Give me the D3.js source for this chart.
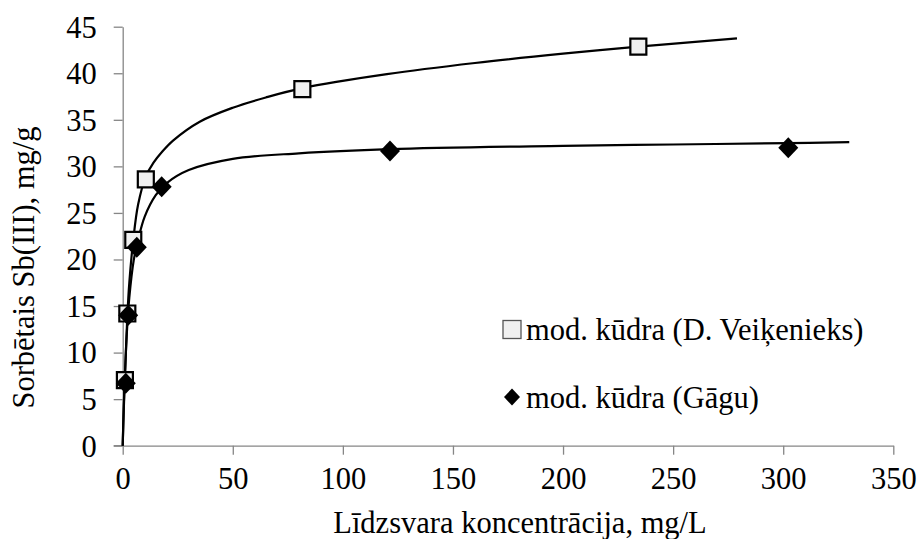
<!DOCTYPE html>
<html>
<head>
<meta charset="utf-8">
<script src="https://cdn.jsdelivr.net/npm/d3@7/dist/d3.min.js"></script>
<style>
  html, body { margin: 0; padding: 0; background: #fff; }
  svg { display: block; }
  text { font-family: "Liberation Serif", "Times New Roman", serif; fill: #000; }
</style>
</head>
<body>
<svg id="chart" width="920" height="539"></svg>
<script>
// Sorption isotherms of Sb(III) on modified peat
const xTicks = [0, 50, 100, 150, 200, 250, 300, 350];
const yTicks = [0, 5, 10, 15, 20, 25, 30, 35, 40, 45];

// measured points: equilibrium concentration (mg/L) and sorbed amount (mg/g)
const veikCe = [1.0, 2.1, 4.8, 10.5, 81.6, 234.2];
const veikQ  = [7.05, 14.2, 22.1, 28.6, 38.3, 42.85];
const gaguCe = [1.4, 2.5, 6.4, 17.7, 121.4, 302.3];
const gaguQ  = [6.7, 14.0, 21.3, 27.8, 31.65, 32.0];

// trend lines as drawn on the chart
const veikTrendX = [0, 0.5, 1.0, 2.1, 3.0, 4.8, 7.0, 10.5, 14, 18, 23, 35, 50, 65, 81.6, 120, 160, 200, 234.2, 279];
const veikTrendY = [0, 4.0, 7.2, 13.9, 17.5, 22.1, 25.9, 28.9, 30.4, 31.6, 32.8, 34.8, 36.3, 37.4, 38.4, 39.9, 41.1, 42.1, 42.85, 43.75];
const gaguTrendX = [0, 0.5, 1.0, 2.0, 3.0, 5.0, 7.0, 10, 15, 20, 30, 50, 80, 121.4, 200, 250, 302.3, 330];
const gaguTrendY = [0, 4.4, 7.6, 12.6, 15.9, 19.9, 22.1, 24.6, 26.9, 28.2, 29.6, 30.8, 31.4, 31.85, 32.2, 32.35, 32.5, 32.6];

const seriesNames = ["mod. kūdra (D. Veiķenieks)", "mod. kūdra (Gāgu)"];

const xTitle = "Līdzsvara koncentrācija, mg/L";
const yTitle = "Sorbētais Sb(III), mg/g";

const svg = d3.select("#chart");
const x = d3.scaleLinear().domain([0, 350]).range([122.7, 893.3]);
const y = d3.scaleLinear().domain([0, 45]).range([445.7, 26.7]);

const axisColor = "#868686";
const fontSize = 30.5;

// y axis
const gy = svg.append("g").attr("transform", `translate(${x(0)},0)`)
  .call(d3.axisLeft(y).tickValues(yTicks).tickSize(9).tickSizeOuter(0).tickPadding(17).tickFormat(d3.format("d")));
gy.select(".domain").attr("stroke", axisColor).attr("stroke-width", 1.3);
gy.selectAll(".tick line").attr("stroke", axisColor).attr("stroke-width", 1.3);
gy.selectAll(".tick text").attr("font-size", fontSize).attr("font-family", "Liberation Serif").attr("dy", "0.34em");

// x axis
const gx = svg.append("g").attr("transform", `translate(0,${y(0)})`)
  .call(d3.axisBottom(x).tickValues(xTicks).tickSize(9).tickSizeOuter(0).tickPadding(13).tickFormat(d3.format("d")));
gx.select(".domain").attr("stroke", axisColor).attr("stroke-width", 1.3);
gx.selectAll(".tick line").attr("stroke", axisColor).attr("stroke-width", 1.3);
gx.selectAll(".tick text").attr("font-size", fontSize).attr("font-family", "Liberation Serif");
// the x axis line continues left to meet the y=0 tick
svg.append("line").attr("x1", x(0) - 9).attr("x2", x(0)).attr("y1", y(0)).attr("y2", y(0))
  .attr("stroke", axisColor).attr("stroke-width", 1.3);

// axis titles
svg.append("text").attr("x", (x(0) + x(350)) / 2 + 12).attr("y", 533)
  .attr("text-anchor", "middle").attr("font-size", fontSize).text(xTitle);
svg.append("text").attr("transform", `translate(34,${267.5}) rotate(-90)`)
  .attr("text-anchor", "middle").attr("font-size", fontSize).text(yTitle);

// trend lines
const line = d3.line().x(d => x(d[0])).y(d => y(d[1])).curve(d3.curveCatmullRom.alpha(0.5));
svg.append("path").datum(d3.zip(gaguTrendX, gaguTrendY)).attr("d", line)
  .attr("fill", "none").attr("stroke", "#000").attr("stroke-width", 2.2);
svg.append("path").datum(d3.zip(veikTrendX, veikTrendY)).attr("d", line)
  .attr("fill", "none").attr("stroke", "#000").attr("stroke-width", 2.2);

// markers
const sq = d3.symbol().type(d3.symbolSquare).size(16 * 16);
function diamondPath(w, h) {
  return `M0,${-h / 2}L${w / 2},0L0,${h / 2}L${-w / 2},0Z`;
}

svg.append("g").selectAll("path").data(d3.zip(veikCe, veikQ)).join("path")
  .attr("transform", d => `translate(${x(d[0])},${y(d[1])})`)
  .attr("d", sq)
  .attr("fill", "#f0f0f0").attr("stroke", "#000").attr("stroke-width", 2.2);

svg.append("g").selectAll("path").data(d3.zip(gaguCe, gaguQ)).join("path")
  .attr("transform", d => `translate(${x(d[0])},${y(d[1])})`)
  .attr("d", diamondPath(20, 21))
  .attr("fill", "#000");

// legend
const legend = svg.append("g");
legend.append("rect").attr("x", 503).attr("y", 320.5).attr("width", 18).attr("height", 18)
  .attr("fill", "#f0f0f0").attr("stroke", "#555").attr("stroke-width", 1.3);
legend.append("text").attr("x", 526).attr("y", 340).attr("font-size", fontSize).text(seriesNames[0]);
legend.append("path").attr("transform", "translate(512,397)").attr("d", diamondPath(16, 17)).attr("fill", "#000");
legend.append("text").attr("x", 526).attr("y", 407.5).attr("font-size", fontSize).text(seriesNames[1]);
</script>
</body>
</html>
